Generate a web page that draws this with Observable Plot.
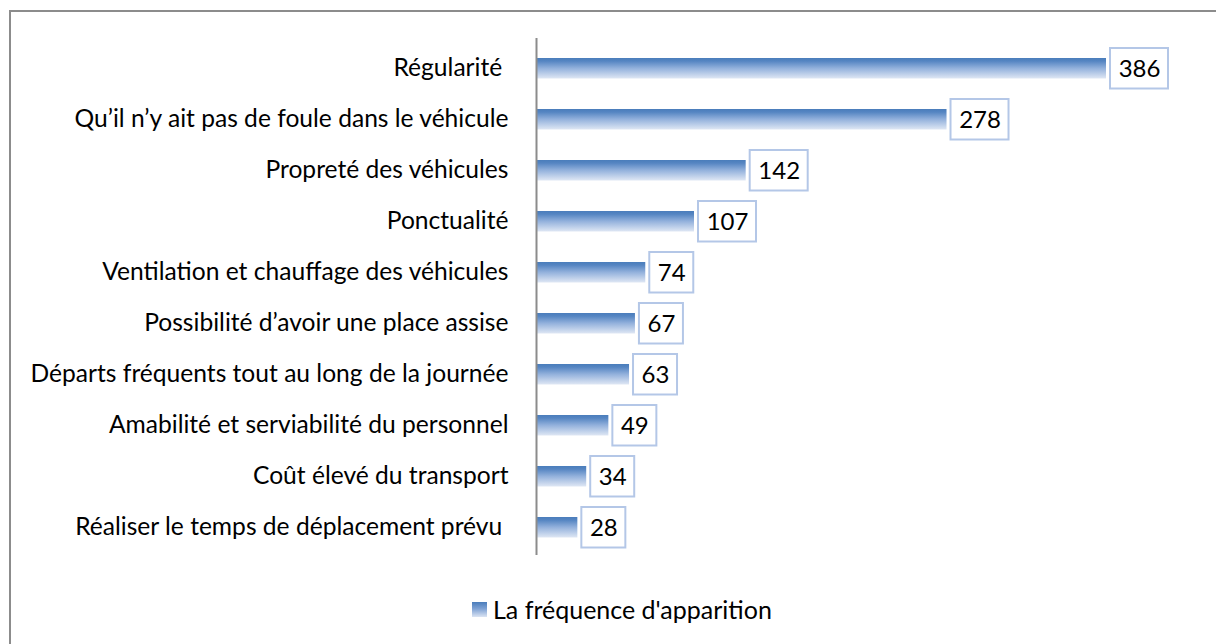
<!DOCTYPE html>
<html>
<head>
<meta charset="utf-8">
<script src="https://cdn.jsdelivr.net/npm/d3@7"></script>
<script src="https://cdn.jsdelivr.net/npm/@observablehq/plot@0.6"></script>
<style>
  html, body { margin: 0; padding: 0; background: #fff; }
  body { width: 1216px; height: 644px; position: relative; overflow: hidden; font-family: Lato, "Open Sans", sans-serif; }
  #frame { position: absolute; left: 9px; top: 10px; width: 1300px; height: 700px; border-left: 2px solid #8c8c8c; border-top: 2px solid #8c8c8c; }
  #chart { position: absolute; left: 0; top: 0; }
  #chart svg text { white-space: pre; }
  #legend { position: absolute; left: 472px; top: 594px; display: flex; align-items: center; font-size: 25px; line-height: 30px; color: #000; }
  #legend .sw { width: 15px; height: 15px; margin-right: 6px; background: linear-gradient(to bottom, #4a7dbb 0%, #7fa2d4 45%, #dbe4f3 100%); }
</style>
</head>
<body>
<div id="frame"></div>
<div id="chart"></div>
<div id="legend"><div class="sw"></div><span>La fréquence d'apparition</span></div>
<script>
const categories = [
  "Régularité ",
  "Qu’il n’y ait pas de foule dans le véhicule",
  "Propreté des véhicules",
  "Ponctualité",
  "Ventilation et chauffage des véhicules",
  "Possibilité d’avoir une place assise",
  "Départs fréquents tout au long de la journée",
  "Amabilité et serviabilité du personnel",
  "Coût élevé du transport",
  "Réaliser le temps de déplacement prévu "
];
const values = [386, 278, 142, 107, 74, 67, 63, 49, 34, 28];
const seriesName = "La fréquence d'apparition";

const data = categories.map((c, i) => ({category: c, value: values[i]}));
const big = data.filter(d => d.value >= 100);
const small = data.filter(d => d.value < 100);

const chart = Plot.plot({
  width: 1216,
  height: 590,
  marginLeft: 536,
  marginRight: 110,
  marginTop: 38,
  marginBottom: 35,
  style: {fontFamily: "Lato, 'Open Sans', sans-serif", fontSize: "24.6px", color: "#000", background: "transparent"},
  x: {domain: [0, 386], range: [536, 1106], axis: null},
  y: {domain: categories, padding: 0, label: null},
  marks: [
    Plot.barX(data, {y: "category", x: "value", fill: "url(#barGrad)", insetTop: 16, insetBottom: 14.5}),
    Plot.rect(big, {y: "category", x1: "value", x2: "value", insetLeft: 4, insetRight: -62, insetTop: 6, insetBottom: 4.5, fill: "#fff", stroke: "#b4c7e7", strokeWidth: 2}),
    Plot.rect(small, {y: "category", x1: "value", x2: "value", insetLeft: 4, insetRight: -48, insetTop: 6, insetBottom: 4.5, fill: "#fff", stroke: "#b4c7e7", strokeWidth: 2}),
    Plot.text(big, {y: "category", x: "value", text: d => String(d.value), dx: 33, dy: 1, fill: "#000", fontSize: 24}),
    Plot.text(small, {y: "category", x: "value", text: d => String(d.value), dx: 26, dy: 1, fill: "#000", fontSize: 24}),
    Plot.ruleX([0], {stroke: "#8c8c8c", strokeWidth: 2}),
    Plot.axisY({tickSize: 0, tickPadding: 28, fontSize: 24.6, label: null})
  ]
});

const svg = d3.select(chart);
const defs = svg.insert("defs", ":first-child");
const g = defs.append("linearGradient").attr("id", "barGrad").attr("x1", 0).attr("y1", 0).attr("x2", 0).attr("y2", 1);
g.append("stop").attr("offset", "0%").attr("stop-color", "#4a7dbb");
g.append("stop").attr("offset", "15%").attr("stop-color", "#5585c2");
g.append("stop").attr("offset", "50%").attr("stop-color", "#93b1dc");
g.append("stop").attr("offset", "100%").attr("stop-color", "#dfe7f4");

document.getElementById("chart").appendChild(chart);
</script>
</body>
</html>
